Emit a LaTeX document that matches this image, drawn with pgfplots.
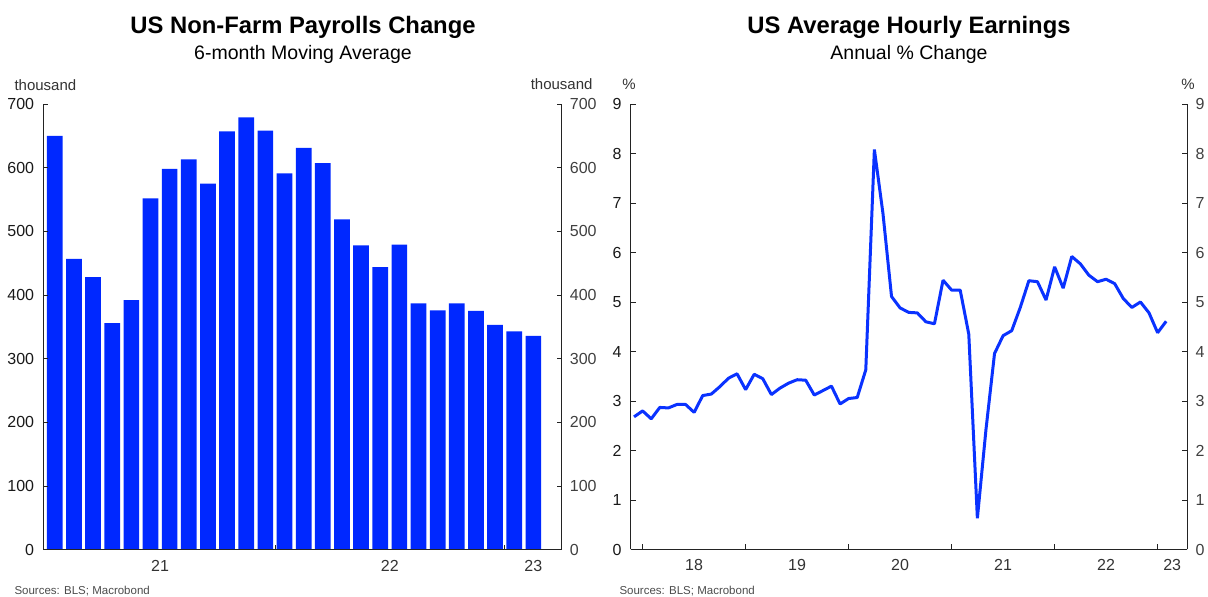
\documentclass[border=0pt]{standalone}
\usepackage{fontspec}
\setmainfont{Liberation Sans}
\usepackage{pgfplots}
\pgfplotsset{compat=1.18}
\definecolor{barblue}{RGB}{0,40,255}
\definecolor{lineblue}{RGB}{10,50,255}
\definecolor{axgray}{RGB}{35,35,35}
\pgfplotsset{
  common/.style={
    scale only axis,
    anchor=south west,
    /pgf/number format/assume math mode=true,
    tick align=inside,
    major tick length=5pt,
    tick style={axgray, line width=0.8pt},
    axis line style={axgray, line width=0.9pt},
    tick label style={font=\fontsize{16}{18}\selectfont, inner sep=0pt},
    yticklabel style={text=black!90},
    xticklabel style={text=black!80, yshift=-10pt},
  },
}
\pgfplotstableread{
x y
0 650
1 457
2 428
3 356
4 392
5 552
6 598
7 613
8 575
9 657
10 679
11 658
12 591
13 631
14 607
15 519
16 478
17 444
18 479
19 387
20 376
21 387
22 375
23 353
24 343
25 336
}\nfpdata
\pgfplotstableread{
x y
-1 2.68
0 2.80
1 2.64
2 2.87
3 2.86
4 2.93
5 2.93
6 2.77
7 3.11
8 3.14
9 3.29
10 3.46
11 3.55
12 3.23
13 3.54
14 3.45
15 3.13
16 3.26
17 3.36
18 3.43
19 3.42
20 3.12
21 3.21
22 3.30
23 2.94
24 3.05
25 3.07
26 3.63
27 8.08
28 6.79
29 5.11
30 4.88
31 4.79
32 4.78
33 4.60
34 4.56
35 5.44
36 5.24
37 5.24
38 4.35
39 0.63
40 2.42
41 3.96
42 4.32
43 4.42
44 4.89
45 5.43
46 5.41
47 5.04
48 5.71
49 5.28
50 5.92
51 5.77
52 5.54
53 5.41
54 5.46
55 5.37
56 5.07
57 4.89
58 5.00
59 4.78
60 4.38
61 4.61
}\ahedata
\begin{document}
\begin{tikzpicture}[x=1pt,y=1pt]
\path[use as bounding box] (0,0) rectangle (1208,597);
% ---------- Left chart ----------
\node[font=\bfseries\fontsize{23.8}{28}\selectfont] at (303,570) {US Non-Farm Payrolls Change};
\node[font=\fontsize{19.5}{23}\selectfont] at (303,543) {6-month Moving Average};
\node[anchor=west, font=\fontsize{15}{18}\selectfont, text=black!80] at (11,512) {thousand};
\node[anchor=east, font=\fontsize{15}{18}\selectfont, text=black!80] at (596,513) {thousand};
\begin{axis}[common, at={(43.3pt,47.2pt)}, width=518.4pt, height=445.8pt,
  xmin=-0.6, xmax=26.48, ymin=0, ymax=700,
  axis x line*=bottom, axis y line*=left,
  axis on top,
  ytick={0,100,...,700},
  yticklabel style={xshift=-9pt},
  xtick={11.5,23.5}, xticklabels={},
  extra x ticks={5.5,17.5,25}, extra x tick labels={21,22,23},
  extra x tick style={major tick length=0pt},
]
\addplot[ybar, bar width=15.7pt, fill=barblue, draw=none] table[x=x,y=y] {\nfpdata};
\end{axis}
\begin{axis}[common, at={(43.3pt,47.2pt)}, width=518.4pt, height=445.8pt,
  xmin=-0.6, xmax=26.48, ymin=0, ymax=700,
  axis x line=none, axis y line*=right,
  ytick={0,100,...,700},
  yticklabel style={xshift=8pt, text=black!75},
]
\end{axis}
\node[anchor=west, font=\fontsize{11.5}{13}\selectfont, text=black!70] at (11,6) {Sources: BLS; Macrobond};
% ---------- Right chart ----------
\node[font=\bfseries\fontsize{23.8}{28}\selectfont] at (909,570) {US Average Hourly Earnings};
\node[font=\fontsize{19.5}{23}\selectfont] at (909,543) {Annual \% Change};
\node[font=\fontsize{15}{18}\selectfont, text=black!80] at (629,513) {\%};
\node[font=\fontsize{15}{18}\selectfont, text=black!80] at (1188,513) {\%};
\begin{axis}[common, at={(630.7pt,47.5pt)}, width=556.6pt, height=445.5pt,
  xmin=-1.39, xmax=63.46, ymin=0, ymax=9,
  axis x line*=bottom, axis y line*=left,
  ytick={0,1,...,9},
  yticklabel style={xshift=-9pt},
  xtick={0,12,24,36,48,60}, xticklabels={},
  extra x ticks={6,18,30,42,54,61.7}, extra x tick labels={18,19,20,21,22,23},
  extra x tick style={major tick length=0pt},
]
\addplot[lineblue, line width=3pt, line join=bevel, mark=none] table[x=x,y=y] {\ahedata};
\end{axis}
\begin{axis}[common, at={(630.7pt,47.5pt)}, width=556.6pt, height=445.5pt,
  xmin=-1.39, xmax=63.46, ymin=0, ymax=9,
  axis x line=none, axis y line*=right,
  ytick={0,1,...,9},
  yticklabel style={xshift=8pt, text=black!75},
]
\end{axis}
\node[anchor=west, font=\fontsize{11.5}{13}\selectfont, text=black!70] at (616,6) {Sources: BLS; Macrobond};
\end{tikzpicture}
\end{document}
